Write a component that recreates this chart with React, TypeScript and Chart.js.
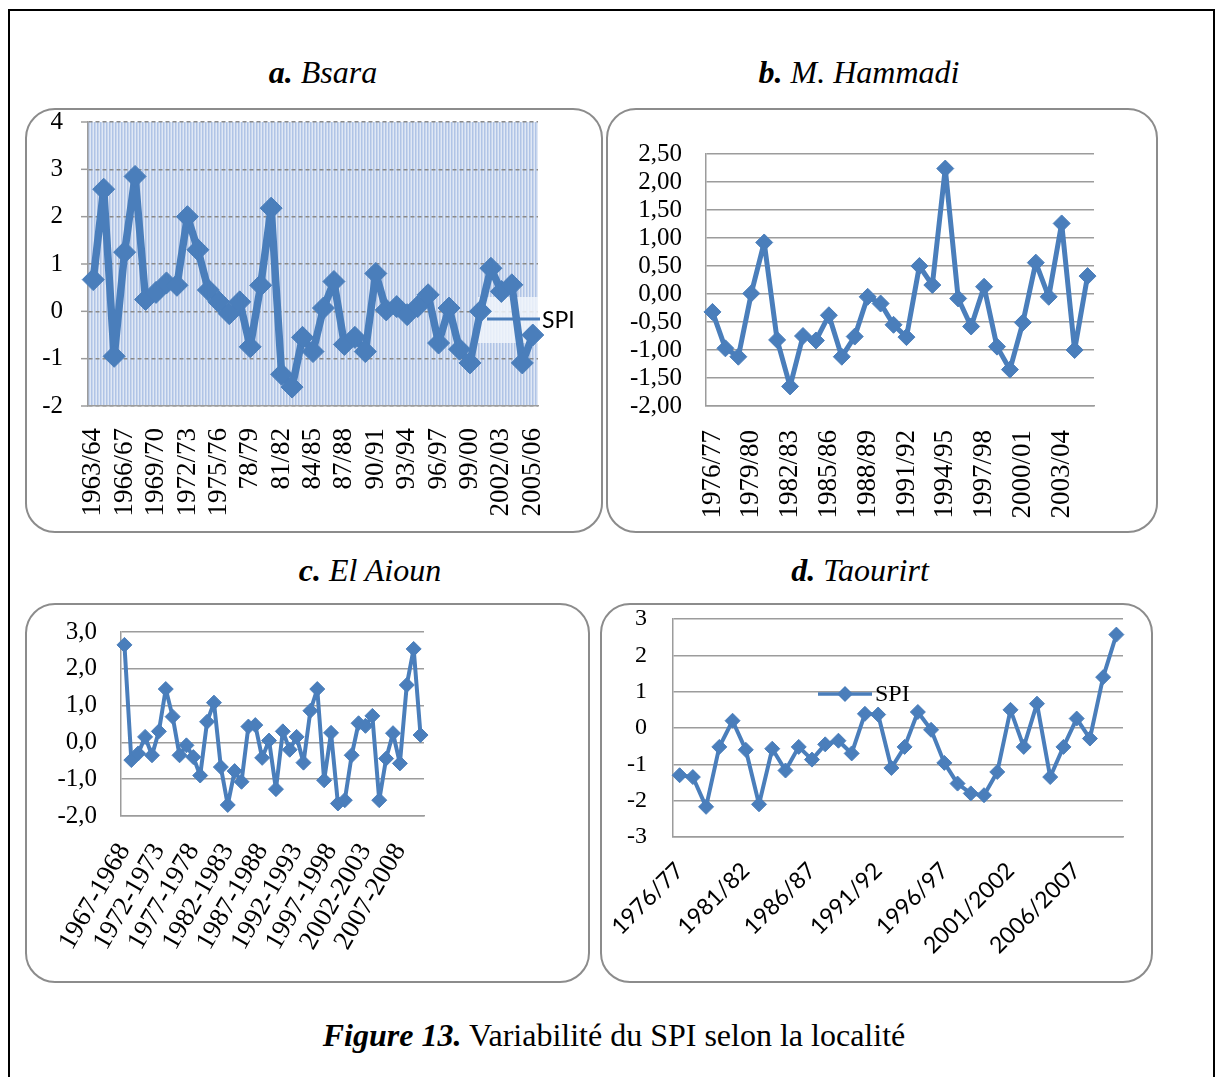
import React, { useEffect, useRef } from 'react';
import { Chart, registerables } from 'chart.js';

Chart.register(...registerables);

const BLUE = '#4a7ebb';
const GRID = '#9c9c9c';
const SERIF = "'Liberation Serif', 'Times New Roman', serif";
const SANS = "Lato, 'Liberation Sans', sans-serif";

// ---------- a. Bsara ----------
const bsaraLabels = [
  '1963/64', '1964/65', '1965/66', '1966/67', '1967/68', '1968/69', '1969/70', '1970/71',
  '1971/72', '1972/73', '1973/74', '1974/75', '1975/76', '1976/77', '1977/78', '78/79',
  '79/80', '80/81', '81/82', '82/83', '83/84', '84/85', '85/86', '86/87', '87/88', '88/89',
  '89/90', '90/91', '91/92', '92/93', '93/94', '94/95', '95/96', '96/97', '97/98', '98/99',
  '99/00', '2000/01', '2001/02', '2002/03', '2003/04', '2004/05', '2005/06',
];
const bsaraSPI = [
  0.67, 2.58, -0.95, 1.25, 2.85, 0.25, 0.4, 0.6, 0.55, 2.0,
  1.3, 0.45, 0.2, -0.05, 0.2, -0.75, 0.55, 2.18, -1.33, -1.6,
  -0.55, -0.85, 0.07, 0.63, -0.7, -0.55, -0.85, 0.8, 0.03, 0.1,
  -0.07, 0.1, 0.35, -0.67, 0.07, -0.8, -1.09, 0.0, 0.91, 0.42,
  0.56, -1.09, -0.5,
];

// ---------- b. M. Hammadi ----------
const hammadiLabels = [
  '1976/77', '1977/78', '1978/79', '1979/80', '1980/81', '1981/82', '1982/83', '1983/84',
  '1984/85', '1985/86', '1986/87', '1987/88', '1988/89', '1989/90', '1990/91', '1991/92',
  '1992/93', '1993/94', '1994/95', '1995/96', '1996/97', '1997/98', '1998/99', '1999/00',
  '2000/01', '2001/02', '2002/03', '2003/04', '2004/05', '2005/06',
];
const hammadiSPI = [
  -0.32, -0.97, -1.12, 0.01, 0.92, -0.82, -1.65, -0.75, -0.83, -0.38,
  -1.12, -0.76, -0.05, -0.17, -0.55, -0.77, 0.5, 0.16, 2.24, -0.08,
  -0.58, 0.13, -0.94, -1.35, -0.51, 0.56, -0.05, 1.26, -1.0, 0.32,
];

// ---------- c. El Aioun ----------
const aiounLabels = [
  '1967-1968', '1968-1969', '1969-1970', '1970-1971', '1971-1972', '1972-1973', '1973-1974',
  '1974-1975', '1975-1976', '1976-1977', '1977-1978', '1978-1979', '1979-1980', '1980-1981',
  '1981-1982', '1982-1983', '1983-1984', '1984-1985', '1985-1986', '1986-1987', '1987-1988',
  '1988-1989', '1989-1990', '1990-1991', '1991-1992', '1992-1993', '1993-1994', '1994-1995',
  '1995-1996', '1996-1997', '1997-1998', '1998-1999', '1999-2000', '2000-2001', '2001-2002',
  '2002-2003', '2003-2004', '2004-2005', '2005-2006', '2006-2007', '2007-2008', '2008-2009',
  '2009-2010', '2010-2011',
];
const aiounSPI = [
  2.65, -0.48, -0.3, 0.15, -0.35, 0.3, 1.45, 0.7, -0.35, -0.08,
  -0.4, -0.9, 0.56, 1.08, -0.67, -1.7, -0.78, -1.07, 0.43, 0.47,
  -0.42, 0.05, -1.27, 0.3, -0.2, 0.15, -0.55, 0.86, 1.45, -1.03,
  0.26, -1.66, -1.57, -0.35, 0.52, 0.45, 0.72, -1.57, -0.44, 0.25,
  -0.57, 1.56, 2.54, 0.2,
];

// ---------- d. Taourirt ----------
const taourirtLabels = [
  '1976/77', '1977/78', '1978/79', '1979/80', '1980/81', '1981/82', '1982/83', '1983/84',
  '1984/85', '1985/86', '1986/87', '1987/88', '1988/89', '1989/90', '1990/91', '1991/92',
  '1992/93', '1993/94', '1994/95', '1995/96', '1996/97', '1997/98', '1998/99', '1999/2000',
  '2000/2001', '2001/2002', '2002/2003', '2003/2004', '2004/2005', '2005/2006', '2006/2007',
  '2007/2008', '2008/2009', '2009/2010',
];
const taourirtSPI = [
  -1.3, -1.35, -2.17, -0.52, 0.2, -0.6, -2.1, -0.57, -1.17, -0.52,
  -0.87, -0.45, -0.35, -0.7, 0.39, 0.37, -1.1, -0.52, 0.44, -0.05,
  -0.96, -1.53, -1.8, -1.85, -1.21, 0.5, -0.52, 0.67, -1.35, -0.52,
  0.26, -0.29, 1.4, 2.57,
];

const SERIES_NAME = 'SPI';

type Cfg = {
  left: number; top: number; width: number; height: number;
  plot: { l: number; r: number; t: number; b: number };
  labels: string[]; values: number[];
  yMin: number; yMax: number; yStep: number; yDecimals: number;
  every: number; rotation: number;
  xFont: any; yFont: any;
  xPad: number; yPad: number;
  lineWidth: number; pointRadius: number;
  dashedGrid?: boolean;
  plugins: any[];
};

const stripePlugin = {
  id: 'stripes',
  beforeDraw(chart: any) {
    const { ctx, chartArea } = chart;
    const { left, right, top, bottom } = chartArea;
    ctx.save();
    ctx.fillStyle = '#e0e8f5';
    ctx.fillRect(left, top, right - left, bottom - top);
    ctx.fillStyle = '#b0c4e6';
    for (let x = left; x < right; x += 3) ctx.fillRect(x, top, 1.5, bottom - top);
    ctx.restore();
  },
  afterDraw(chart: any) {
    // small outside tick marks on the value axis
    const { ctx, chartArea, scales } = chart;
    const y = scales.y;
    ctx.save();
    ctx.strokeStyle = GRID;
    ctx.lineWidth = 1.5;
    y.ticks.forEach((t: any) => {
      const py = y.getPixelForValue(t.value);
      ctx.beginPath();
      ctx.moveTo(chartArea.left - 7, py);
      ctx.lineTo(chartArea.left, py);
      ctx.stroke();
    });
    ctx.restore();
  },
};

const boxedLegendPlugin = {
  id: 'boxedLegend',
  beforeDatasetsDraw(chart: any) {
    const { ctx } = chart;
    ctx.save();
    ctx.fillStyle = 'rgba(240,244,250,0.85)';
    ctx.fillRect(453, 189, 60, 46);
    ctx.restore();
  },
  afterDraw(chart: any) {
    const { ctx } = chart;
    ctx.save();
    ctx.strokeStyle = BLUE;
    ctx.lineWidth = 3;
    ctx.beginPath();
    ctx.moveTo(462, 211);
    ctx.lineTo(515, 211);
    ctx.stroke();
    ctx.fillStyle = '#000';
    ctx.font = `23px ${SANS}`;
    ctx.textBaseline = 'middle';
    ctx.textAlign = 'left';
    ctx.fillText(SERIES_NAME, 517, 213);
    ctx.restore();
  },
};

const markerLegendPlugin = {
  id: 'markerLegend',
  afterDraw(chart: any) {
    const { ctx } = chart;
    ctx.save();
    ctx.strokeStyle = BLUE;
    ctx.fillStyle = BLUE;
    ctx.lineWidth = 3.5;
    ctx.beginPath();
    ctx.moveTo(218, 91);
    ctx.lineTo(272, 91);
    ctx.stroke();
    ctx.beginPath();
    ctx.moveTo(245, 83);
    ctx.lineTo(253, 91);
    ctx.lineTo(245, 99);
    ctx.lineTo(237, 91);
    ctx.closePath();
    ctx.fill();
    ctx.fillStyle = '#000';
    ctx.font = `24px ${SERIF}`;
    ctx.textBaseline = 'middle';
    ctx.textAlign = 'left';
    ctx.fillText(SERIES_NAME, 275, 92);
    ctx.restore();
  },
};

function SpiChart({ cfg }: { cfg: Cfg }) {
  const ref = useRef<HTMLCanvasElement | null>(null);
  useEffect(() => {
    const canvas = ref.current;
    if (!canvas) return;
    const { plot, width, height } = cfg;
    const fmt = (v: any) =>
      cfg.yDecimals > 0
        ? Number(v).toFixed(cfg.yDecimals).replace('.', ',')
        : String(Math.round(Number(v)) || 0);
    const chart = new Chart(canvas, {
      type: 'line',
      data: {
        labels: cfg.labels,
        datasets: [
          {
            label: SERIES_NAME,
            data: cfg.values,
            borderColor: BLUE,
            backgroundColor: BLUE,
            borderWidth: cfg.lineWidth,
            borderJoinStyle: 'round',
            pointStyle: 'rectRot',
            pointRadius: cfg.pointRadius,
            pointBackgroundColor: BLUE,
            pointBorderColor: BLUE,
            pointBorderWidth: 1,
            tension: 0,
            fill: false,
          } as any,
        ],
      },
      options: {
        responsive: false,
        maintainAspectRatio: false,
        animation: false,
        events: [],
        layout: { padding: { top: plot.t, right: width - plot.r, left: 0, bottom: 0 } },
        plugins: { legend: { display: false }, tooltip: { enabled: false }, title: { display: false } },
        scales: {
          x: {
            type: 'category',
            offset: true,
            grid: { display: false, drawTicks: false },
            border: { display: true, color: GRID, width: 1.5 },
            ticks: {
              autoSkip: false,
              minRotation: cfg.rotation,
              maxRotation: cfg.rotation,
              padding: cfg.xPad,
              color: '#000',
              font: cfg.xFont,
              callback: (_v: any, i: number) => (i % cfg.every === 0 ? cfg.labels[i] : ''),
            },
            afterFit: (s: any) => {
              s.height = height - plot.b;
              s.paddingLeft = 0;
              s.paddingRight = 0;
            },
          },
          y: {
            min: cfg.yMin,
            max: cfg.yMax,
            grid: {
              color: cfg.dashedGrid ? '#8a8a8a' : GRID,
              lineWidth: 1.5,
              drawTicks: false,
            } as any,
            border: { display: true, color: GRID, width: 1.5, dash: cfg.dashedGrid ? [4, 3] : [] },
            ticks: {
              autoSkip: false,
              stepSize: cfg.yStep,
              padding: cfg.yPad,
              color: '#000',
              font: cfg.yFont,
              callback: (v: any) => fmt(v),
            },
            afterFit: (s: any) => {
              s.width = plot.l;
              s.paddingTop = 0;
              s.paddingBottom = 0;
            },
          },
        },
      } as any,
      plugins: cfg.plugins,
    });
    return () => chart.destroy();
  }, []);
  return (
    <canvas
      ref={ref}
      width={cfg.width}
      height={cfg.height}
      style={{ position: 'absolute', left: cfg.left, top: cfg.top, width: cfg.width, height: cfg.height }}
    />
  );
}

const panelA: Cfg = {
  left: 25, top: 108, width: 578, height: 425,
  plot: { l: 63, r: 513, t: 14, b: 298 },
  labels: bsaraLabels, values: bsaraSPI,
  yMin: -2, yMax: 4, yStep: 1, yDecimals: 0,
  every: 3, rotation: 90,
  xFont: { family: SERIF, size: 27, style: 'normal', weight: 'normal' },
  yFont: { family: SERIF, size: 25, style: 'normal', weight: 'normal' },
  xPad: 22, yPad: 25,
  lineWidth: 7.5, pointRadius: 11,
  dashedGrid: true,
  plugins: [stripePlugin, boxedLegendPlugin],
};

const panelB: Cfg = {
  left: 606, top: 108, width: 552, height: 425,
  plot: { l: 100, r: 488, t: 46, b: 298 },
  labels: hammadiLabels, values: hammadiSPI,
  yMin: -2, yMax: 2.5, yStep: 0.5, yDecimals: 2,
  every: 3, rotation: 90,
  xFont: { family: SERIF, size: 27, style: 'normal', weight: 'normal' },
  yFont: { family: SERIF, size: 25, style: 'normal', weight: 'normal' },
  xPad: 24, yPad: 24,
  lineWidth: 5, pointRadius: 8.5,
  plugins: [],
};

const panelC: Cfg = {
  left: 25, top: 603, width: 565, height: 380,
  plot: { l: 96, r: 399, t: 29, b: 213 },
  labels: aiounLabels, values: aiounSPI,
  yMin: -2, yMax: 3, yStep: 1, yDecimals: 1,
  every: 5, rotation: 60,
  xFont: { family: SERIF, size: 27, style: 'normal', weight: 'normal' },
  yFont: { family: SERIF, size: 25, style: 'normal', weight: 'normal' },
  xPad: 22, yPad: 24,
  lineWidth: 4, pointRadius: 7.5,
  plugins: [],
};

const panelD: Cfg = {
  left: 600, top: 603, width: 553, height: 380,
  plot: { l: 73, r: 523, t: 16, b: 234 },
  labels: taourirtLabels, values: taourirtSPI,
  yMin: -3, yMax: 3, yStep: 1, yDecimals: 0,
  every: 5, rotation: 45,
  xFont: { family: SANS, size: 23, style: 'normal', weight: 'normal' },
  yFont: { family: SERIF, size: 24, style: 'normal', weight: 'normal' },
  xPad: 20, yPad: 26,
  lineWidth: 4, pointRadius: 7.5,
  plugins: [markerLegendPlugin],
};

const boxStyle = (left: number, top: number, width: number, height: number): React.CSSProperties => ({
  position: 'absolute', left, top, width, height, boxSizing: 'border-box',
  border: '2px solid #8c8c8c', borderRadius: 30, background: '#fff',
});

const titleStyle = (center: number, top: number): React.CSSProperties => ({
  position: 'absolute', left: center - 300, width: 600, top, textAlign: 'center',
  fontFamily: SERIF, fontStyle: 'italic', fontSize: 32, lineHeight: '36px', color: '#000', whiteSpace: 'nowrap',
});

export default function App() {
  return (
    <div style={{ position: 'absolute', left: 0, top: 0, width: 1223, height: 1077, overflow: 'hidden', background: '#fff' }}>
      <div style={{ position: 'absolute', left: 8, top: 9, width: 1207, height: 1068, boxSizing: 'border-box', borderTop: '2px solid #000', borderLeft: '2px solid #000', borderRight: '2px solid #000' }} />
      <div style={titleStyle(323, 54)}><b>a.</b> Bsara</div>
      <div style={titleStyle(859, 54)}><b>b.</b> M. Hammadi</div>
      <div style={titleStyle(370, 552)}><b>c.</b> El Aioun</div>
      <div style={titleStyle(860, 552)}><b>d.</b> Taourirt</div>
      <div style={boxStyle(25, 108, 578, 425)} />
      <div style={boxStyle(606, 108, 552, 425)} />
      <div style={boxStyle(25, 603, 565, 380)} />
      <div style={boxStyle(600, 603, 553, 380)} />
      <SpiChart cfg={panelA} />
      <SpiChart cfg={panelB} />
      <SpiChart cfg={panelC} />
      <SpiChart cfg={panelD} />
      <div style={{ position: 'absolute', left: 14, width: 1200, top: 1017, textAlign: 'center', fontFamily: SERIF, fontSize: 32, lineHeight: '36px', color: '#000', whiteSpace: 'nowrap' }}>
        <b><i>Figure 13.</i></b> Variabilité du SPI selon la localité
      </div>
    </div>
  );
}
